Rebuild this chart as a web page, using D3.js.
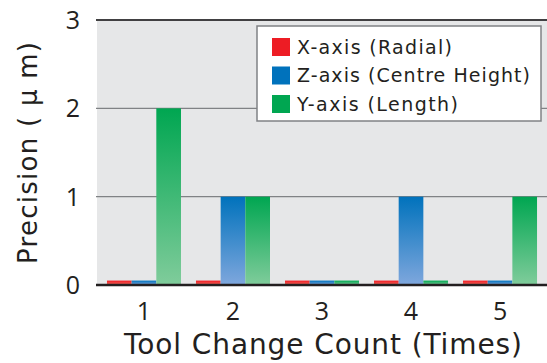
<!DOCTYPE html>
<html>
<head>
<meta charset="utf-8">
<script src="https://cdn.jsdelivr.net/npm/d3@7"></script>
<style>
  html, body { margin: 0; padding: 0; background: #fff; }
  svg { display: block; font-family: "DejaVu Sans", sans-serif; }
  .num { font-family: "Open Sans", sans-serif; }
</style>
</head>
<body>
<svg id="chart" width="547" height="363"></svg>
<script>
// Tool change counts along the x axis
const categories = ["1", "2", "3", "4", "5"];
// Precision per axis, in micrometres
const seriesNames = ["X-axis (Radial)", "Z-axis (Centre Height)", "Y-axis (Length)"];
const xRadial = [0.05, 0.05, 0.05, 0.05, 0.05];
const zCentreHeight = [0.05, 1, 0.05, 1, 0.05];
const yLength = [2, 1, 0.05, 0.05, 1];
const yTicks = [0, 1, 2, 3];

const seriesValues = [xRadial, zCentreHeight, yLength];
const colorsTop = ["#ed1c24", "#0072bc", "#00a651"];
const colorsBottom = ["#f46b5f", "#7fa7dd", "#80cc9b"];
// text run widths for the legend entries
const legendWidths = [155, 233, 161];

const svg = d3.select("#chart");
const margin = { left: 97, right: 0, top: 20, bottom: 78 };
const W = 547, H = 363;

const x = d3.scaleBand().domain(categories)
  .range([margin.left, W - margin.right])
  .paddingInner(0.1685).paddingOuter(0.112);
const xSub = d3.scaleBand().domain(d3.range(seriesNames.length)).range([0, x.bandwidth()]);
const y = d3.scaleLinear().domain([0, 3]).range([H - margin.bottom, margin.top]);

// gradients for bars
const defs = svg.append("defs");
seriesNames.forEach((s, i) => {
  const g = defs.append("linearGradient").attr("id", "grad" + i)
    .attr("x1", 0).attr("y1", 0).attr("x2", 0).attr("y2", 1);
  g.append("stop").attr("offset", "0%").attr("stop-color", colorsTop[i]);
  g.append("stop").attr("offset", "100%").attr("stop-color", colorsBottom[i]);
});

// plot background
svg.append("rect")
  .attr("x", margin.left).attr("y", margin.top)
  .attr("width", W - margin.right - margin.left)
  .attr("height", y(0) - margin.top)
  .attr("fill", "#e6e7e8");

// gridlines
svg.append("g").selectAll("line").data(yTicks.filter(t => t > 0 && t < 3)).join("line")
  .attr("x1", margin.left - 1).attr("x2", W)
  .attr("y1", d => y(d)).attr("y2", d => y(d))
  .attr("stroke", "#808285").attr("stroke-width", 1.3);

// bars
const groups = svg.append("g").selectAll("g").data(categories).join("g")
  .attr("transform", d => `translate(${x(d)},0)`);
groups.selectAll("rect")
  .data((d, ci) => seriesValues.map((vals, si) => ({ si, v: vals[ci] })))
  .join("rect")
  .attr("x", d => xSub(d.si))
  .attr("width", xSub.bandwidth())
  .attr("y", d => y(d.v))
  .attr("height", d => y(0) - y(d.v))
  .attr("fill", d => `url(#grad${d.si})`);

// top and bottom frame lines
svg.append("line").attr("x1", margin.left - 1).attr("x2", W)
  .attr("y1", y(3)).attr("y2", y(3)).attr("stroke", "#414042").attr("stroke-width", 1.8);
svg.append("line").attr("x1", margin.left - 1).attr("x2", W)
  .attr("y1", y(0)).attr("y2", y(0)).attr("stroke", "#231f20").attr("stroke-width", 2.4);

// y tick labels
svg.append("g").selectAll("text").data(yTicks).join("text")
  .attr("class", "num")
  .attr("x", 80).attr("y", d => y(d))
  .attr("dy", "0.36em")
  .attr("text-anchor", "end")
  .attr("font-size", 25)
  .attr("fill", "#231f20")
  .text(d => d);

// x tick labels
svg.append("g").selectAll("text").data(categories).join("text")
  .attr("class", "num")
  .attr("x", d => x(d) + x.bandwidth() / 2).attr("y", 320)
  .attr("text-anchor", "middle")
  .attr("font-size", 25)
  .attr("fill", "#231f20")
  .text(d => d);

// axis titles
svg.append("text")
  .attr("x", 323).attr("y", 354)
  .attr("text-anchor", "middle")
  .attr("font-size", 28)
  .attr("textLength", 398).attr("lengthAdjust", "spacing")
  .attr("fill", "#231f20")
  .text("Tool Change Count (Times)");

svg.append("text")
  .attr("transform", `translate(37,153) rotate(-90)`)
  .attr("text-anchor", "middle")
  .attr("font-size", 26)
  .attr("textLength", 222).attr("lengthAdjust", "spacing")
  .attr("fill", "#231f20")
  .text("Precision ( μ m)");

// legend
const legend = svg.append("g");
legend.append("rect")
  .attr("x", 257).attr("y", 26).attr("width", 284).attr("height", 95)
  .attr("fill", "#fff").attr("stroke", "#808285").attr("stroke-width", 1.5);
const rows = legend.selectAll("g").data(seriesNames).join("g")
  .attr("transform", (d, i) => `translate(272,${47 + i * 28.5})`);
rows.append("rect").attr("x", 0).attr("y", -9).attr("width", 18).attr("height", 18)
  .attr("fill", (d, i) => colorsTop[i]);
rows.append("text").attr("x", 25).attr("y", 0).attr("dy", "0.36em")
  .attr("font-size", 19).attr("fill", "#231f20")
  .attr("textLength", (d, i) => legendWidths[i]).attr("lengthAdjust", "spacing")
  .text(d => d);
</script>
</body>
</html>
